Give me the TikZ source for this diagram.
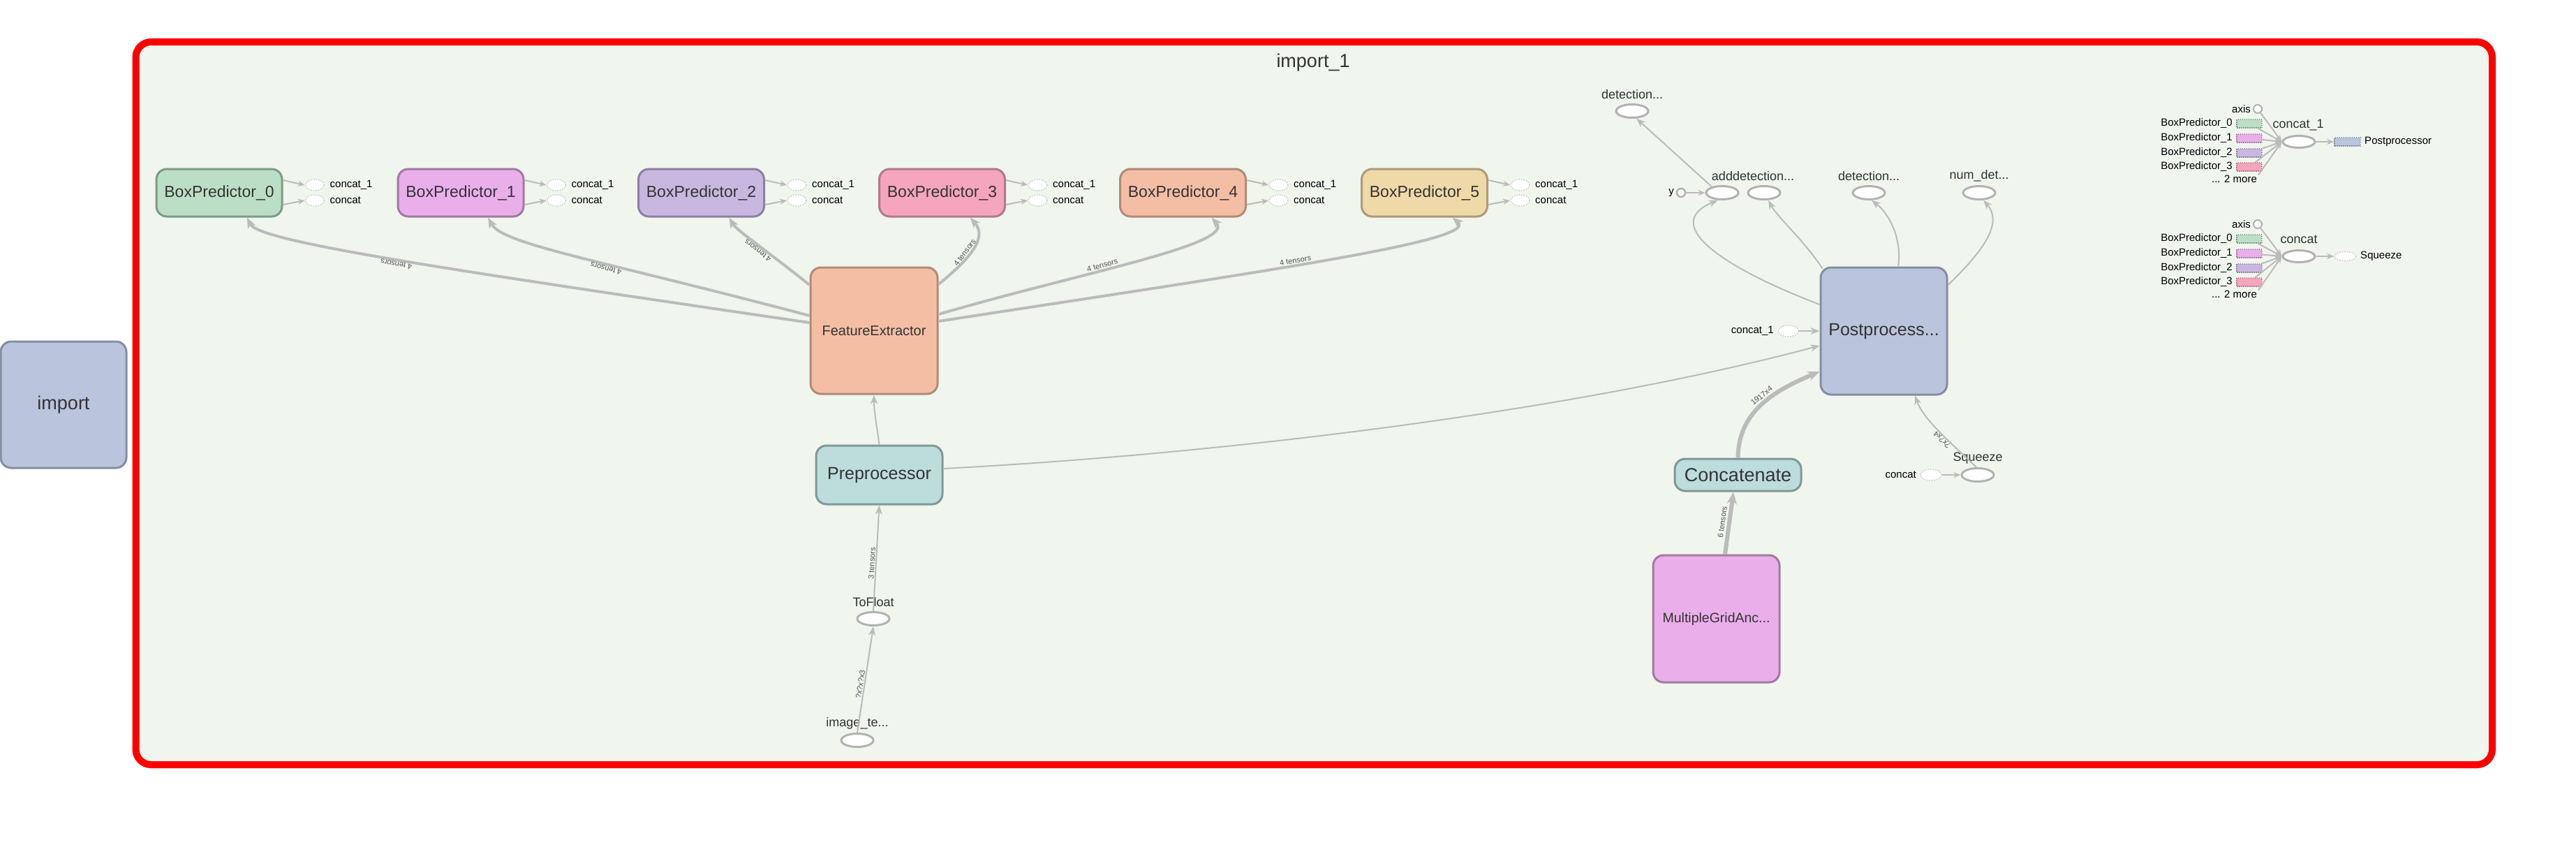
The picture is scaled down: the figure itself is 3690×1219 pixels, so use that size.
\documentclass[tikz,border=0pt]{standalone}
\usepackage{fontspec}
\setmainfont{Liberation Sans}
\usetikzlibrary{shapes.geometric,arrows.meta,calc}
\definecolor{framebg}{RGB}{240,245,238}
\definecolor{txt}{RGB}{51,51,51}
\definecolor{ellb}{RGB}{178,178,178}
\definecolor{stubb}{RGB}{200,200,200}
\definecolor{edgec}{RGB}{187,187,187}
\definecolor{elc}{RGB}{85,85,85}
\definecolor{bpAf}{RGB}{188,222,198}\definecolor{bpAd}{RGB}{126,154,133}
\definecolor{bpBf}{RGB}{234,174,234}\definecolor{bpBd}{RGB}{160,122,160}
\definecolor{bpCf}{RGB}{200,184,224}\definecolor{bpCd}{RGB}{140,128,160}
\definecolor{bpDf}{RGB}{245,165,190}\definecolor{bpDd}{RGB}{176,122,138}
\definecolor{bpEf}{RGB}{244,190,165}\definecolor{bpEd}{RGB}{176,138,120}
\definecolor{bpFf}{RGB}{240,217,168}\definecolor{bpFd}{RGB}{174,154,120}
\definecolor{tealf}{RGB}{189,220,220}\definecolor{teald}{RGB}{127,152,152}
\definecolor{bluef}{RGB}{186,196,221}\definecolor{blued}{RGB}{133,141,160}
\newcommand\fsz[1]{\fontsize{#1}{#1}\selectfont}
\tikzset{
  opbox/.style={rectangle, rounded corners=15pt, line width=3pt, inner sep=0pt, text=txt},
  ell/.style={ellipse, draw=ellb, fill=white, line width=3pt, minimum width=46pt, minimum height=19pt, inner sep=0pt},
  stub/.style={ellipse, draw=stubb, fill=white, dash pattern=on 1.5pt off 2pt, line width=1.5pt, minimum width=27pt, minimum height=16pt, inner sep=0pt},
  conn/.style={draw=edgec, line width=2pt, -{Stealth[length=13pt,width=10pt,inset=4pt]}},
  mid/.style={conn, line width=4pt, -{Stealth[length=15pt,width=12pt,inset=4pt]}},
  fat/.style={draw=edgec, line width=6pt, -{Stealth[length=17pt,width=14pt,inset=5pt]}},
  small/.style={draw=edgec, line width=2pt, -{Stealth[length=10pt,width=8pt,inset=3pt]}},
  elabel/.style={font=\fsz{11}, text=elc, inner sep=1pt},
  olabel/.style={font=\fsz{18}, text=txt, inner sep=0pt},
  blabel/.style={font=\fsz{15}, text=black, inner sep=0pt},
  srect/.style={rectangle, dash pattern=on 1.5pt off 1.5pt, line width=1.3pt, minimum width=36pt, minimum height=12pt, inner sep=0pt},
}
\begin{document}
\begin{tikzpicture}[x=1pt,y=-1pt]
\useasboundingbox (0,0) rectangle (3690,1219);
% outer import node
\node[opbox, fill=bluef, draw=blued, minimum width=180pt, minimum height=181pt, font=\fsz{27}] (imp) at (91,579.5) {import};
% frame
\draw[red, line width=10pt, fill=framebg, rounded corners=22pt] (194.5,60) rectangle (3570,1095);
\node[font=\fsz{27}, text=txt] (title) at (1881,90) {import\_1};

% box predictors
\node[opbox, fill=bpAf, draw=bpAd, minimum width=180pt, minimum height=68pt, font=\fsz{23}] (bp0) at (314,276) {BoxPredictor\_0};
\node[opbox, fill=bpBf, draw=bpBd, minimum width=180pt, minimum height=68pt, font=\fsz{23}] (bp1) at (660,276) {BoxPredictor\_1};
\node[opbox, fill=bpCf, draw=bpCd, minimum width=180pt, minimum height=68pt, font=\fsz{23}] (bp2) at (1004.5,276) {BoxPredictor\_2};
\node[opbox, fill=bpDf, draw=bpDd, minimum width=180pt, minimum height=68pt, font=\fsz{23}] (bp3) at (1349.5,276) {BoxPredictor\_3};
\node[opbox, fill=bpEf, draw=bpEd, minimum width=180pt, minimum height=68pt, font=\fsz{23}] (bp4) at (1694.5,276) {BoxPredictor\_4};
\node[opbox, fill=bpFf, draw=bpFd, minimum width=180pt, minimum height=68pt, font=\fsz{23}] (bp5) at (2040.5,276) {BoxPredictor\_5};
\foreach \n in {0,...,5}{
  \node[stub] (sa\n) at ($(bp\n.east)+(45.5,-11)$) {};
  \node[stub] (sb\n) at ($(bp\n.east)+(45.5,11)$) {};
  \node[blabel, anchor=west] (la\n) at ($(bp\n.east)+(67,-11)$) {concat\_1};
  \node[blabel, anchor=west] (lb\n) at ($(bp\n.east)+(67,11)$) {concat};
  \draw[small] ($(bp\n.east)+(0,-18)$) -- (sa\n.west);
  \draw[small] ($(bp\n.east)+(0,17)$) -- (sb\n.west);
}

% main column
\node[opbox, fill=bpEf, draw=bpEd, minimum width=182pt, minimum height=181pt, font=\fsz{20}] (fe) at (1252,473.5) {FeatureExtractor};
\node[opbox, fill=tealf, draw=teald, minimum width=181pt, minimum height=84pt, font=\fsz{25}] (pre) at (1259.5,680) {Preprocessor};
\node[ell] (tf) at (1251,886) {};
\node[olabel] (tfl) at (1251,862) {ToFloat};
\node[ell] (it) at (1228,1060) {};
\node[olabel] (itl) at (1228,1036) {image\_te...};

% FE -> box predictors
\draw[mid] ($(fe.west)+(0,-11.5)$) .. controls (600,380) and (370,345) .. ($(bp0.south)+(40,0)$)
  node[elabel, pos=0.48, sloped, allow upside down, above] {4 tensors};
\draw[mid] ($(fe.west)+(0,-21.5)$) .. controls (850,370) and (720,350) .. ($(bp1.south)+(39,0)$)
  node[elabel, pos=0.4, sloped, allow upside down, above] {4 tensors};
\draw[mid] ($(fe.west)+(0,-65.5)$) .. controls (1100,360) and (1055,330) .. ($(bp2.south)+(40,0)$)
  node[elabel, pos=0.45, sloped, allow upside down, above] {4 tensors};
\draw[mid] ($(fe.east)+(0,-66.5)$) .. controls (1390,370) and (1415,340) .. ($(bp3.south)+(40,0)$)
  node[elabel, pos=0.4, sloped, allow upside down, above] {4 tensors};
\draw[mid] ($(fe.east)+(0,-23.5)$) .. controls (1550,390) and (1770,350) .. ($(bp4.south)+(41,0)$)
  node[elabel, pos=0.4, sloped, allow upside down, above] {4 tensors};
\draw[mid] ($(fe.east)+(0,-13.5)$) .. controls (1800,390) and (2120,345) .. ($(bp5.south)+(40,0)$)
  node[elabel, pos=0.45, sloped, allow upside down, above] {4 tensors};

\draw[conn] (pre.north) .. controls (1256,610) and (1252,590) .. (fe.south);
\draw[conn] (tf.north) -- (pre.south) node[elabel, pos=0.45, sloped, allow upside down, above] {3 tensors};
\draw[conn] (it.north) -- (tf.south) node[elabel, pos=0.45, sloped, allow upside down, above] {?x?x?x3};

% postprocessor area
\node[opbox, fill=bluef, draw=blued, minimum width=181pt, minimum height=182pt, font=\fsz{25}] (pp) at (2698.5,474) {Postprocess...};
\node[opbox, fill=tealf, draw=teald, minimum width=181pt, minimum height=46pt, font=\fsz{27}] (cc) at (2489.5,680) {Concatenate};
\node[opbox, fill=bpBf, draw=bpBd, minimum width=181pt, minimum height=182pt, font=\fsz{19.5}] (mga) at (2458.5,886) {MultipleGridAnc...};
\node[ell] (sq) at (2833,680) {};
\node[olabel] (sql) at (2833,656) {Squeeze};
\node[stub, minimum width=30pt] (cs2) at (2766,680) {};
\node[blabel, anchor=east] (cs2l) at (2745,680) {concat};
\node[stub, minimum width=29pt] (cs1) at (2562,474) {};
\node[blabel, anchor=east] (cs1l) at (2541,474) {concat\_1};

\node[ell] (e1) at (2467,276) {};
\node[ell] (e2) at (2527,276) {};
\node[ell] (e3) at (2677,276) {};
\node[ell] (e4) at (2835,276) {};
\node[olabel] (e1l) at (2511,252) {adddetection...};
\node[olabel] (e3l) at (2677,252) {detection...};
\node[olabel] (e4l) at (2835,252) {num\_det...};
\node[ell] (d0) at (2338,159) {};
\node[olabel] (d0l) at (2338,135) {detection...};
\node[circle, draw=ellb, fill=white, line width=2.5pt, minimum size=12pt, inner sep=0pt] (yc) at (2408,276) {};
\node[blabel, anchor=east] (ycl) at (2398,276) {y};

\draw[conn] (cs1.east) -- (pp.west);
\draw[small] (cs2.east) -- (sq.west);
\draw[conn] ($(pre.east)+(0,-9)$) .. controls (1750,650) and (2250,590) .. ($(pp.west)+(0,21)$);
\draw[fat] (cc.north) .. controls (2490,590) and (2540,560) .. ($(pp.west)+(0,58)$)
  node[elabel, pos=0.55, sloped, allow upside down, above=2pt] {1917x4};
\draw[fat] ($(mga.north)+(12.5,0)$) -- ($(cc.south)+(-6.5,0)$)
  node[elabel, pos=0.5, sloped, allow upside down, above=2pt] {6 tensors};
\draw[conn] (sq.100) .. controls (2790,630) and (2755,600) .. ($(pp.south)+(44.5,0)$)
  node[elabel, pos=0.4, sloped, allow upside down, above] {?x?x4};

\draw[conn] ($(pp.west)+(0,-38)$) .. controls (2460,380) and (2380,320) .. (e1.240);
\draw[conn] ($(pp.north west)+(4,3)$) .. controls (2585,345) and (2545,310) .. (e2.300);
\draw[conn] ($(pp.north)+(20.5,0)$) .. controls (2725,340) and (2705,305) .. (e3.290);
\draw[conn] ($(pp.east)+(0,-66)$) .. controls (2840,360) and (2870,320) .. (e4.300);
\draw[conn] (e1.150) -- (d0.300);
\draw[small] (yc.east) -- (e1.west);

% summary group 1 (concat_1)
\node[circle, draw=ellb, fill=white, line width=2pt, minimum size=12pt, inner sep=0pt] (ax1) at (3234,156) {};
\node[blabel, anchor=east] (ax1l) at (3224,156) {axis};
\node[srect, fill=bpAf, draw=bpAd] (s1b0) at (3222,177) {};
\node[srect, fill=bpBf, draw=bpBd] (s1b1) at (3222,198) {};
\node[srect, fill=bpCf, draw=bpCd] (s1b2) at (3222,219) {};
\node[srect, fill=bpDf, draw=bpDd] (s1b3) at (3222,239) {};
\node[blabel, anchor=east] (s1l0) at (3198,177) {BoxPredictor\_0};
\node[blabel, anchor=east] (s1l1) at (3198,198) {BoxPredictor\_1};
\node[blabel, anchor=east] (s1l2) at (3198,219) {BoxPredictor\_2};
\node[blabel, anchor=east] (s1l3) at (3198,239) {BoxPredictor\_3};
\node[blabel, anchor=east] (m1) at (3233,256) {... 2 more};
\node[ell, minimum height=17pt] (c1) at (3293,203) {};
\node[olabel] (c1l) at (3292,179) {concat\_1};
\node[srect, fill=bluef, draw=blued, minimum width=37pt] (pr1) at (3362.5,203) {};
\node[blabel, anchor=west] (pr1l) at (3387,203) {Postprocessor};
\foreach \s in {ax1,s1b0,s1b1,s1b2,s1b3}{\draw[small] (\s) -- (c1.west);}
\draw[small] ($(m1.north east)+(2,0)$) -- (c1.west);
\draw[small] (c1.east) -- (pr1.west);

% summary group 2 (concat)
\node[circle, draw=ellb, fill=white, line width=2pt, minimum size=12pt, inner sep=0pt] (ax2) at (3234,321) {};
\node[blabel, anchor=east] (ax2l) at (3224,321) {axis};
\node[srect, fill=bpAf, draw=bpAd] (s2b0) at (3222,342) {};
\node[srect, fill=bpBf, draw=bpBd] (s2b1) at (3222,363) {};
\node[srect, fill=bpCf, draw=bpCd] (s2b2) at (3222,384) {};
\node[srect, fill=bpDf, draw=bpDd] (s2b3) at (3222,404) {};
\node[blabel, anchor=east] (s2l0) at (3198,342) {BoxPredictor\_0};
\node[blabel, anchor=east] (s2l1) at (3198,363) {BoxPredictor\_1};
\node[blabel, anchor=east] (s2l2) at (3198,384) {BoxPredictor\_2};
\node[blabel, anchor=east] (s2l3) at (3198,404) {BoxPredictor\_3};
\node[blabel, anchor=east] (m2) at (3233,421) {... 2 more};
\node[ell, minimum height=17pt] (c2) at (3293,367) {};
\node[olabel] (c2l) at (3293,343) {concat};
\node[stub, minimum width=31pt, minimum height=13pt] (sq2) at (3359.5,367) {};
\node[blabel, anchor=west] (sq2l) at (3381,367) {Squeeze};
\foreach \s in {ax2,s2b0,s2b1,s2b2,s2b3}{\draw[small] (\s) -- (c2.west);}
\draw[small] ($(m2.north east)+(2,0)$) -- (c2.west);
\draw[small] (c2.east) -- (sq2.west);
\end{tikzpicture}
\end{document}
